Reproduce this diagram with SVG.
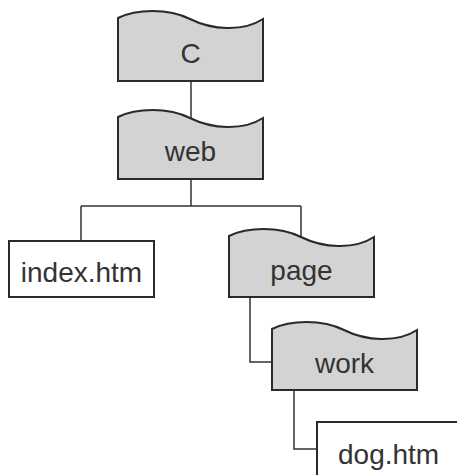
<svg xmlns="http://www.w3.org/2000/svg" width="457" height="475" viewBox="0 0 457 475">
<style>
.folder{fill:#d3d3d3;stroke:#2a2a2a;stroke-width:2;stroke-linejoin:miter}
.file{fill:#ffffff;stroke:#2a2a2a;stroke-width:2}
.lbl{font-family:"Liberation Sans",Arial,sans-serif;font-size:28px;fill:#333333;text-anchor:middle}
.conn{fill:none;stroke:#333333;stroke-width:1.5}
</style>
<rect width="457" height="475" fill="#ffffff"/>
<g id="connectors">
<path class="conn" d="M191,81 V125"/>
<path class="conn" d="M191,179 V206 M81,206 H301 M81,206 V241 M301,206 V240"/>
<path class="conn" d="M250,297 V362 H272"/>
<path class="conn" d="M294,390 V449 H317"/>
</g>
<g id="node-c">
<path class="folder" d="M118,81 V18 c18,-9 50,-10 72,1 s53,13 73,0 V81 Z"/>
<text class="lbl" x="190.5" y="63">C</text>
</g>
<g id="node-web">
<path class="folder" d="M118,179 V117 c18,-9 50,-10 72,1 s53,13 73,0 V179 Z"/>
<text class="lbl" x="190.5" y="161">web</text>
</g>
<g id="node-index">
<rect class="file" x="9" y="241" width="145" height="56"/>
<text class="lbl" x="81.5" y="282">index.htm</text>
</g>
<g id="node-page">
<path class="folder" d="M229,297 V236 c18,-9 50,-10 72,1 s53,13 73,0 V297 Z"/>
<text class="lbl" x="301.5" y="280">page</text>
</g>
<g id="node-work">
<path class="folder" d="M272,390 V329 c18,-9 50,-10 72,1 s53,13 73,0 V390 Z"/>
<text class="lbl" x="344.5" y="373">work</text>
</g>
<g id="node-dog">
<rect class="file" x="317" y="422" width="160" height="80"/>
<text class="lbl" x="338" y="464" style="text-anchor:start">dog.htm</text>
</g>
</svg>
